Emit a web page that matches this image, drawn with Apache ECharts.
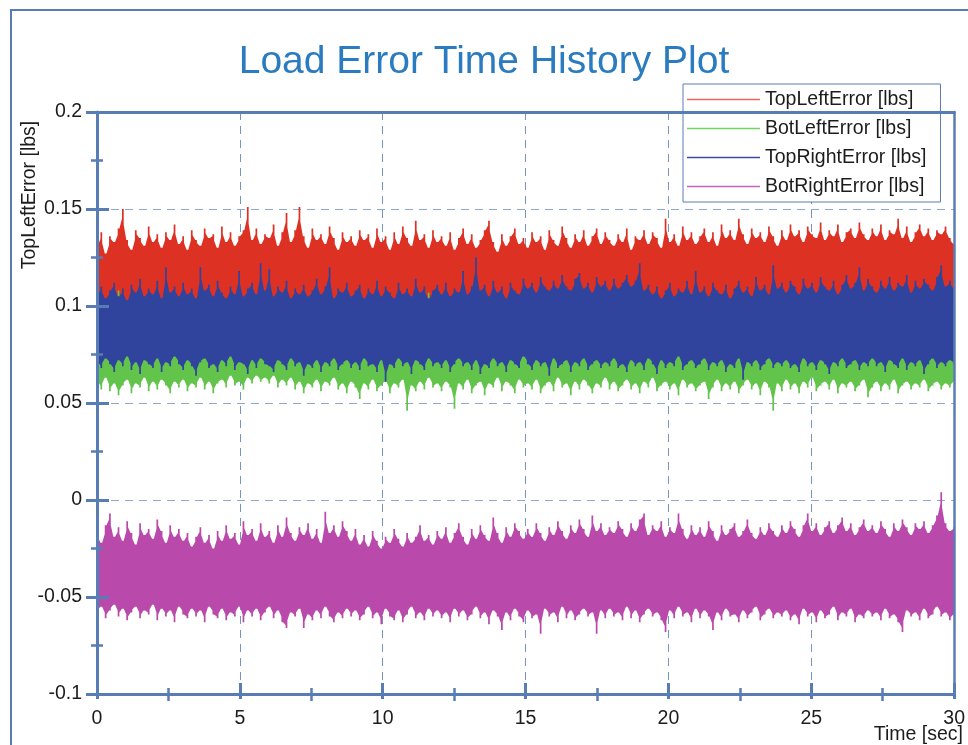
<!DOCTYPE html>
<html>
<head>
<meta charset="utf-8">
<script src="https://cdn.jsdelivr.net/npm/echarts@6/dist/echarts.min.js"></script>
<style>
  html, body { margin: 0; padding: 0; background: #ffffff; }
  #chart { width: 968px; height: 745px; }
</style>
</head>
<body>
<div id="chart"></div>
<script>
// Time span of the record [sec] and axis ticks
const timeMin = 0, timeMax = 30, timeStep = 5;
const loadMin = -0.1, loadMax = 0.2, loadStep = 0.05;

// Envelope of each error signal [lbs]: upper and lower extremes per time slot,
// 200 slots evenly spread over the record.
const topLeftHi = [
  0.131,0.138,0.127,0.136,0.133,0.140,0.150,0.134,0.129,0.139,0.135,0.131,0.141,0.133,0.137,0.130,0.138,0.134,0.142,0.132,
  0.136,0.129,0.139,0.134,0.131,0.140,0.135,0.137,0.130,0.141,0.133,0.138,0.131,0.136,0.139,0.151,0.134,0.140,0.132,0.137,
  0.135,0.142,0.131,0.138,0.148,0.133,0.139,0.151,0.136,0.130,0.140,0.134,0.137,0.132,0.141,0.135,0.129,0.138,0.133,0.136,
  0.131,0.139,0.134,0.137,0.130,0.140,0.133,0.136,0.129,0.138,0.132,0.141,0.135,0.131,0.144,0.134,0.137,0.130,0.139,0.133,
  0.136,0.131,0.138,0.129,0.135,0.140,0.132,0.137,0.130,0.134,0.139,0.144,0.133,0.128,0.137,0.131,0.136,0.140,0.132,0.135,
  0.130,0.138,0.133,0.136,0.129,0.139,0.134,0.131,0.141,0.135,0.130,0.137,0.133,0.139,0.131,0.136,0.140,0.132,0.138,0.134,
  0.131,0.137,0.133,0.140,0.129,0.136,0.134,0.139,0.132,0.138,0.135,0.130,0.145,0.133,0.137,0.131,0.141,0.134,0.138,0.132,
  0.136,0.140,0.133,0.138,0.131,0.142,0.135,0.139,0.134,0.145,0.137,0.132,0.140,0.135,0.138,0.133,0.141,0.136,0.131,0.139,
  0.134,0.142,0.136,0.139,0.133,0.141,0.137,0.135,0.143,0.134,0.139,0.136,0.142,0.133,0.138,0.140,0.135,0.143,0.137,0.134,
  0.140,0.136,0.142,0.134,0.139,0.137,0.145,0.135,0.141,0.133,0.138,0.142,0.136,0.140,0.134,0.139,0.137,0.141,0.135,0.132
];
const topLeftLo = [
  0.099,0.096,0.101,0.097,0.100,0.095,0.098,0.102,0.096,0.099,0.094,0.100,0.097,0.101,0.095,0.098,0.100,0.096,0.099,0.097,
  0.101,0.095,0.098,0.100,0.096,0.099,0.094,0.101,0.097,0.100,0.095,0.098,0.102,0.096,0.099,0.097,0.100,0.095,0.098,0.101,
  0.096,0.099,0.097,0.100,0.094,0.098,0.101,0.096,0.099,0.095,0.100,0.097,0.098,0.102,0.096,0.099,0.095,0.100,0.097,0.098,
  0.100,0.095,0.099,0.097,0.101,0.096,0.098,0.094,0.100,0.097,0.099,0.096,0.101,0.095,0.098,0.100,0.096,0.099,0.097,0.102,
  0.095,0.098,0.100,0.096,0.099,0.097,0.101,0.094,0.098,0.100,0.096,0.099,0.095,0.101,0.097,0.098,0.100,0.095,0.099,0.096,
  0.098,0.101,0.096,0.099,0.097,0.100,0.095,0.098,0.102,0.096,0.099,0.097,0.100,0.094,0.098,0.101,0.096,0.099,0.097,0.100,
  0.096,0.099,0.095,0.100,0.097,0.098,0.101,0.096,0.099,0.094,0.100,0.097,0.098,0.101,0.095,0.099,0.097,0.100,0.096,0.098,
  0.101,0.097,0.099,0.095,0.100,0.098,0.096,0.101,0.097,0.099,0.094,0.100,0.098,0.096,0.101,0.097,0.099,0.095,0.100,0.098,
  0.097,0.100,0.096,0.099,0.101,0.095,0.098,0.100,0.097,0.099,0.096,0.101,0.094,0.098,0.100,0.097,0.099,0.096,0.100,0.098,
  0.099,0.096,0.101,0.097,0.100,0.095,0.098,0.100,0.096,0.099,0.097,0.101,0.095,0.098,0.100,0.096,0.099,0.097,0.100,0.098
];
const botLeftHi = [
  0.092,0.088,0.095,0.090,0.097,0.108,0.093,0.089,0.096,0.091,0.094,0.087,0.098,0.092,0.090,0.095,0.088,0.093,0.097,0.091,
  0.094,0.089,0.096,0.092,0.087,0.095,0.090,0.098,0.093,0.088,0.096,0.091,0.094,0.089,0.097,0.092,0.090,0.095,0.088,0.093,
  0.091,0.096,0.089,0.094,0.092,0.098,0.087,0.093,0.095,0.090,0.097,0.092,0.088,0.094,0.091,0.096,0.089,0.093,0.099,0.090,
  0.095,0.088,0.092,0.097,0.090,0.094,0.089,0.096,0.091,0.093,0.087,0.095,0.092,0.090,0.097,0.093,0.088,0.107,0.091,0.094,
  0.089,0.096,0.092,0.088,0.095,0.091,0.098,0.090,0.093,0.087,0.096,0.092,0.094,0.089,0.097,0.091,0.095,0.088,0.093,0.090,
  0.096,0.091,0.094,0.089,0.097,0.092,0.088,0.095,0.090,0.098,0.093,0.087,0.094,0.091,0.096,0.089,0.093,0.097,0.090,0.095,
  0.092,0.088,0.095,0.091,0.097,0.089,0.094,0.090,0.096,0.093,0.087,0.095,0.092,0.098,0.090,0.094,0.088,0.096,0.091,0.093,
  0.097,0.090,0.093,0.088,0.095,0.092,0.098,0.089,0.094,0.091,0.096,0.087,0.093,0.090,0.097,0.092,0.095,0.089,0.094,0.091,
  0.088,0.095,0.091,0.097,0.090,0.093,0.087,0.096,0.092,0.094,0.089,0.098,0.091,0.095,0.088,0.093,0.097,0.090,0.094,0.092,
  0.095,0.089,0.093,0.097,0.091,0.094,0.088,0.096,0.092,0.090,0.097,0.093,0.089,0.095,0.091,0.094,0.090,0.096,0.092,0.093
];
const botLeftLo = [
  0.061,0.057,0.063,0.056,0.060,0.054,0.059,0.062,0.055,0.060,0.058,0.063,0.056,0.061,0.057,0.062,0.059,0.055,0.061,0.058,
  0.062,0.056,0.060,0.058,0.063,0.057,0.061,0.055,0.060,0.062,0.058,0.064,0.059,0.061,0.057,0.063,0.060,0.064,0.061,0.063,
  0.060,0.064,0.058,0.062,0.059,0.063,0.057,0.061,0.055,0.060,0.058,0.062,0.056,0.061,0.059,0.063,0.057,0.060,0.055,0.061,
  0.058,0.052,0.060,0.057,0.062,0.056,0.059,0.061,0.055,0.060,0.058,0.062,0.046,0.059,0.056,0.061,0.057,0.063,0.058,0.060,
  0.056,0.061,0.058,0.047,0.060,0.057,0.062,0.055,0.059,0.061,0.054,0.060,0.058,0.063,0.056,0.061,0.059,0.055,0.062,0.058,
  0.060,0.057,0.062,0.055,0.059,0.061,0.056,0.063,0.058,0.060,0.054,0.061,0.057,0.062,0.059,0.055,0.060,0.058,0.063,0.057,
  0.061,0.056,0.059,0.062,0.057,0.060,0.055,0.061,0.058,0.063,0.056,0.059,0.061,0.057,0.060,0.054,0.062,0.058,0.060,0.056,
  0.059,0.061,0.052,0.058,0.062,0.056,0.060,0.057,0.061,0.055,0.059,0.062,0.057,0.060,0.054,0.061,0.058,0.046,0.060,0.056,
  0.062,0.057,0.060,0.055,0.061,0.058,0.063,0.056,0.059,0.061,0.057,0.062,0.055,0.060,0.058,0.061,0.056,0.059,0.062,0.053,
  0.058,0.061,0.056,0.060,0.057,0.062,0.055,0.059,0.061,0.057,0.060,0.058,0.062,0.056,0.059,0.061,0.057,0.060,0.058,0.061
];
const topRightHi = [
  0.106,0.110,0.104,0.108,0.112,0.105,0.109,0.103,0.111,0.107,0.114,0.105,0.109,0.106,0.113,0.104,0.120,0.107,0.110,0.105,
  0.112,0.106,0.109,0.104,0.120,0.108,0.111,0.105,0.113,0.107,0.104,0.110,0.106,0.118,0.105,0.109,0.112,0.106,0.122,0.108,
  0.119,0.105,0.110,0.107,0.113,0.104,0.109,0.106,0.111,0.105,0.108,0.114,0.106,0.110,0.120,0.104,0.109,0.107,0.112,0.105,
  0.108,0.111,0.104,0.109,0.106,0.113,0.105,0.110,0.107,0.104,0.112,0.106,0.109,0.105,0.114,0.107,0.110,0.104,0.108,0.111,
  0.106,0.112,0.105,0.109,0.107,0.118,0.106,0.110,0.125,0.108,0.111,0.105,0.113,0.107,0.110,0.104,0.112,0.108,0.106,0.114,
  0.109,0.112,0.107,0.115,0.110,0.108,0.113,0.109,0.116,0.110,0.108,0.114,0.117,0.109,0.112,0.107,0.115,0.110,0.113,0.108,
  0.114,0.109,0.112,0.116,0.110,0.113,0.122,0.108,0.111,0.106,0.110,0.104,0.108,0.112,0.105,0.109,0.107,0.113,0.106,0.118,
  0.107,0.110,0.105,0.112,0.108,0.106,0.111,0.104,0.109,0.113,0.107,0.110,0.105,0.115,0.108,0.111,0.106,0.121,0.109,0.112,
  0.107,0.113,0.110,0.106,0.114,0.109,0.112,0.107,0.115,0.110,0.108,0.113,0.106,0.111,0.116,0.109,0.112,0.120,0.108,0.114,
  0.110,0.107,0.113,0.109,0.115,0.108,0.112,0.110,0.116,0.107,0.113,0.109,0.114,0.111,0.108,0.115,0.121,0.110,0.113,0.109
];
const topRightLo = [
  0.071,0.068,0.073,0.070,0.066,0.072,0.069,0.074,0.067,0.071,0.065,0.072,0.070,0.068,0.073,0.066,0.071,0.069,0.074,0.070,
  0.067,0.072,0.069,0.064,0.071,0.073,0.068,0.070,0.066,0.072,0.069,0.074,0.067,0.071,0.070,0.065,0.072,0.068,0.073,0.070,
  0.069,0.066,0.072,0.070,0.067,0.073,0.069,0.071,0.064,0.070,0.068,0.072,0.066,0.071,0.069,0.073,0.067,0.070,0.072,0.068,
  0.071,0.067,0.073,0.069,0.070,0.066,0.072,0.061,0.070,0.068,0.073,0.069,0.071,0.065,0.072,0.070,0.067,0.073,0.069,0.071,
  0.068,0.072,0.066,0.070,0.073,0.069,0.071,0.067,0.072,0.065,0.070,0.068,0.073,0.069,0.071,0.066,0.072,0.070,0.068,0.074,
  0.070,0.067,0.072,0.069,0.071,0.064,0.073,0.068,0.070,0.072,0.066,0.071,0.069,0.073,0.067,0.070,0.072,0.068,0.071,0.069,
  0.073,0.068,0.070,0.066,0.072,0.069,0.071,0.067,0.073,0.070,0.065,0.072,0.068,0.071,0.069,0.074,0.067,0.070,0.072,0.068,
  0.070,0.073,0.067,0.071,0.069,0.072,0.066,0.070,0.068,0.073,0.062,0.071,0.069,0.072,0.067,0.070,0.073,0.068,0.071,0.069,
  0.072,0.068,0.070,0.066,0.073,0.069,0.071,0.067,0.072,0.070,0.065,0.071,0.069,0.073,0.068,0.070,0.072,0.067,0.071,0.069,
  0.073,0.069,0.071,0.066,0.072,0.070,0.068,0.073,0.067,0.071,0.069,0.072,0.065,0.070,0.073,0.068,0.071,0.069,0.072,0.070
];
const botRightHi = [
  -0.016,-0.022,-0.013,-0.007,-0.019,-0.014,-0.021,-0.011,-0.017,-0.023,-0.012,-0.018,-0.015,-0.020,-0.010,-0.016,-0.022,-0.013,-0.019,-0.015,
  -0.021,-0.017,-0.024,-0.019,-0.014,-0.022,-0.018,-0.025,-0.016,-0.021,-0.013,-0.020,-0.017,-0.023,-0.011,-0.018,-0.015,-0.021,-0.012,-0.019,
  -0.016,-0.022,-0.013,-0.019,-0.009,-0.017,-0.021,-0.014,-0.018,-0.012,-0.020,-0.015,-0.022,-0.006,-0.017,-0.013,-0.019,-0.011,-0.016,-0.021,
  -0.015,-0.023,-0.018,-0.024,-0.016,-0.021,-0.025,-0.019,-0.022,-0.015,-0.020,-0.024,-0.017,-0.022,-0.019,-0.013,-0.021,-0.018,-0.023,-0.016,
  -0.020,-0.014,-0.022,-0.017,-0.012,-0.019,-0.023,-0.015,-0.020,-0.013,-0.018,-0.021,-0.009,-0.017,-0.022,-0.014,-0.019,-0.012,-0.016,-0.020,
  -0.015,-0.019,-0.012,-0.017,-0.021,-0.014,-0.018,-0.011,-0.016,-0.020,-0.013,-0.017,-0.010,-0.015,-0.019,-0.008,-0.016,-0.012,-0.018,-0.014,
  -0.017,-0.011,-0.015,-0.019,-0.012,-0.016,-0.010,-0.007,-0.018,-0.013,-0.016,-0.011,-0.019,-0.014,-0.017,-0.007,-0.015,-0.020,-0.013,-0.018,
  -0.014,-0.019,-0.011,-0.016,-0.021,-0.013,-0.018,-0.015,-0.012,-0.019,-0.016,-0.010,-0.017,-0.020,-0.014,-0.018,-0.012,-0.016,-0.019,-0.013,
  -0.017,-0.011,-0.015,-0.019,-0.013,-0.007,-0.016,-0.012,-0.018,-0.014,-0.011,-0.017,-0.013,-0.009,-0.016,-0.012,-0.018,-0.014,-0.010,-0.016,
  -0.013,-0.017,-0.011,-0.015,-0.019,-0.012,-0.016,-0.010,-0.014,-0.018,-0.012,-0.015,-0.011,-0.017,-0.013,-0.008,0.004,-0.012,-0.016,-0.014
];
const botRightLo = [
  -0.058,-0.055,-0.061,-0.057,-0.054,-0.060,-0.056,-0.062,-0.058,-0.055,-0.061,-0.057,-0.059,-0.054,-0.062,-0.056,-0.060,-0.057,-0.063,-0.055,
  -0.059,-0.061,-0.056,-0.060,-0.057,-0.063,-0.055,-0.059,-0.061,-0.056,-0.062,-0.058,-0.060,-0.055,-0.063,-0.057,-0.060,-0.056,-0.062,-0.058,
  -0.055,-0.061,-0.057,-0.063,-0.066,-0.058,-0.060,-0.056,-0.066,-0.059,-0.062,-0.057,-0.061,-0.055,-0.060,-0.063,-0.058,-0.061,-0.056,-0.060,
  -0.057,-0.062,-0.059,-0.055,-0.061,-0.058,-0.064,-0.056,-0.060,-0.062,-0.057,-0.063,-0.059,-0.055,-0.061,-0.058,-0.062,-0.056,-0.060,-0.057,
  -0.061,-0.058,-0.063,-0.056,-0.060,-0.057,-0.062,-0.059,-0.055,-0.061,-0.058,-0.064,-0.057,-0.060,-0.067,-0.058,-0.062,-0.056,-0.060,-0.063,
  -0.057,-0.061,-0.059,-0.069,-0.056,-0.060,-0.058,-0.063,-0.055,-0.061,-0.057,-0.062,-0.059,-0.056,-0.060,-0.058,-0.069,-0.057,-0.061,-0.056,
  -0.060,-0.058,-0.062,-0.055,-0.061,-0.057,-0.063,-0.059,-0.056,-0.060,-0.058,-0.062,-0.068,-0.057,-0.061,-0.055,-0.060,-0.058,-0.063,-0.056,
  -0.061,-0.057,-0.060,-0.067,-0.058,-0.062,-0.056,-0.060,-0.059,-0.063,-0.057,-0.061,-0.058,-0.055,-0.062,-0.059,-0.056,-0.061,-0.058,-0.060,
  -0.057,-0.062,-0.059,-0.064,-0.056,-0.060,-0.058,-0.063,-0.057,-0.061,-0.059,-0.055,-0.062,-0.058,-0.060,-0.056,-0.063,-0.059,-0.061,-0.057,
  -0.060,-0.058,-0.062,-0.056,-0.061,-0.059,-0.063,-0.068,-0.057,-0.060,-0.058,-0.062,-0.056,-0.061,-0.059,-0.055,-0.060,-0.058,-0.062,-0.059
];

const signals = [
  { name: 'TopLeftError [lbs]',  hi: topLeftHi,  lo: topLeftLo,  color: '#dd3124' },
  { name: 'BotLeftError [lbs]',  hi: botLeftHi,  lo: botLeftLo,  color: '#62c44a' },
  { name: 'TopRightError [lbs]', hi: topRightHi, lo: topRightLo, color: '#30449e' },
  { name: 'BotRightError [lbs]', hi: botRightHi, lo: botRightLo, color: '#b94aab' }
];
const legendColors = ['#e8685c', '#72d460', '#3a4c9e', '#c863bd'];

const FONT = '"Liberation Sans", Arial, sans-serif';
const AXIS_COLOR = '#587cb4';
const TEXT_COLOR = '#1c1c1c';
const LABEL_SIZE = 19.5;

// One item per time slot: [t, lo, hi]
function bandItems(hi, lo) {
  const n = hi.length;
  const dt = (timeMax - timeMin) / (n - 1);
  return hi.map((h, i) => [timeMin + i * dt, lo[i], h]);
}

// Whole band of a signal as one filled outline. Each slot's extreme is drawn as a
// narrow spike; between two slots the edge sits half-way between their extremes.
function renderBand(params, api) {
  if (params.dataIndexInside !== 0) return null;
  const n = params.dataInsideLength;
  const t = [], lo = [], hi = [];
  for (let j = 0; j < n; j++) {
    t.push(api.value(0, j)); lo.push(api.value(1, j)); hi.push(api.value(2, j));
  }
  const half = 0.2 * (t[1] - t[0]);
  const mid = (a, b) => (a + b) / 2;
  const top = [], bottom = [];
  for (let j = 0; j < n; j++) {
    const xl = Math.max(timeMin, t[j] - half);
    const xr = Math.min(timeMax, t[j] + half);
    const hiL = j > 0 ? Math.min(hi[j], mid(hi[j - 1], hi[j])) : hi[j];
    const hiR = j < n - 1 ? Math.min(hi[j], mid(hi[j], hi[j + 1])) : hi[j];
    const loL = j > 0 ? Math.max(lo[j], mid(lo[j - 1], lo[j])) : lo[j];
    const loR = j < n - 1 ? Math.max(lo[j], mid(lo[j], lo[j + 1])) : lo[j];
    top.push(api.coord([xl, hiL]), api.coord([xl, hi[j]]), api.coord([xr, hi[j]]), api.coord([xr, hiR]));
    bottom.push(api.coord([xl, loL]), api.coord([xl, lo[j]]), api.coord([xr, lo[j]]), api.coord([xr, loR]));
  }
  return {
    type: 'polygon',
    shape: { points: top.concat(bottom.reverse()) },
    style: { fill: api.visual('color') },
    silent: true
  };
}

function xAxisBase(extra) {
  return Object.assign({
    type: 'value', min: timeMin, max: timeMax, interval: timeStep,
    axisLine: { show: false, onZero: false }, axisTick: { show: false }, minorTick: { show: false },
    axisLabel: { show: false }, splitLine: { show: false }
  }, extra);
}
function yAxisBase(extra) {
  return Object.assign({
    type: 'value', min: loadMin, max: loadMax, interval: loadStep,
    axisLine: { show: false, onZero: false }, axisTick: { show: false }, minorTick: { show: false },
    axisLabel: { show: false }, splitLine: { show: false }
  }, extra);
}

const gridDash = { type: [8, 6], width: 1 };
const frameLine = (w) => ({ show: true, onZero: false, lineStyle: { color: AXIS_COLOR, width: w } });

const option = {
  animation: false,
  backgroundColor: '#ffffff',
  title: {
    text: 'Load Error Time History Plot',
    left: 'center',
    top: 38,
    textStyle: { fontFamily: FONT, fontSize: 39, fontWeight: 'normal', color: '#2a7bbf' }
  },
  grid: { left: 97, right: 9, top: 112, bottom: 51, containLabel: false },
  legend: {
    orient: 'vertical',
    left: 683,
    top: 84,
    padding: [5, 14, 5, 4],
    itemGap: 8,
    itemWidth: 73,
    itemHeight: 1.5,
    icon: 'rect',
    selectedMode: false,
    backgroundColor: '#ffffff',
    borderColor: AXIS_COLOR,
    borderWidth: 1,
    textStyle: { fontFamily: FONT, fontSize: LABEL_SIZE, color: TEXT_COLOR, lineHeight: 21 },
    data: signals.map((s, i) => ({ name: s.name, itemStyle: { color: legendColors[i] } }))
  },
  xAxis: [
    // dashed vertical grid, under the data
    xAxisBase({ position: 'bottom', z: 0,
      splitLine: { show: true, lineStyle: Object.assign({ color: '#7593c3' }, gridDash) } }),
    // bottom axis line, outer tick halves and labels
    xAxisBase({ position: 'bottom', z: 5,
      axisLine: frameLine(3),
      axisTick: { show: true, inside: false, length: 5, lineStyle: { color: AXIS_COLOR, width: 3 } },
      minorTick: { show: true, splitNumber: 2, length: 7, lineStyle: { color: AXIS_COLOR, width: 2.5 } },
      axisLabel: { show: true, color: TEXT_COLOR, fontFamily: FONT, fontSize: LABEL_SIZE, margin: 15 } }),
    // inner tick halves
    xAxisBase({ position: 'bottom', z: 5,
      axisTick: { show: true, inside: true, length: 11, lineStyle: { color: AXIS_COLOR, width: 3 } },
      minorTick: { show: true, splitNumber: 2, length: 6, lineStyle: { color: AXIS_COLOR, width: 2.5 } } }),
    // top frame line
    xAxisBase({ position: 'top', z: 5, axisLine: frameLine(3) })
  ],
  yAxis: [
    yAxisBase({ position: 'left', z: 0,
      splitLine: { show: true, lineStyle: Object.assign({ color: '#8ea7cc' }, gridDash) } }),
    yAxisBase({ position: 'left', z: 5,
      axisLine: frameLine(3),
      axisTick: { show: true, inside: false, length: 11, lineStyle: { color: AXIS_COLOR, width: 3 } },
      minorTick: { show: true, splitNumber: 2, length: 6, lineStyle: { color: AXIS_COLOR, width: 2.5 } },
      axisLabel: { show: true, color: TEXT_COLOR, fontFamily: FONT, fontSize: LABEL_SIZE, margin: 15 } }),
    yAxisBase({ position: 'left', z: 5,
      axisTick: { show: true, inside: true, length: 12, lineStyle: { color: AXIS_COLOR, width: 3 } },
      minorTick: { show: true, splitNumber: 2, length: 6, lineStyle: { color: AXIS_COLOR, width: 2.5 } } }),
    // right frame line
    yAxisBase({ position: 'right', z: 5, axisLine: frameLine(2.5) })
  ],
  series: signals.map(s => ({
    type: 'custom',
    name: s.name,
    xAxisIndex: 0,
    yAxisIndex: 0,
    z: 2,
    itemStyle: { color: s.color },
    renderItem: renderBand,
    encode: { x: 0, y: [1, 2] },
    data: bandItems(s.hi, s.lo)
  })),
  graphic: [
    { type: 'rect', z: 100, silent: true,
      shape: { x: 11, y: 10, width: 1200, height: 1000 },
      style: { fill: 'none', stroke: AXIS_COLOR, lineWidth: 2 } },
    { type: 'text', z: 100, silent: true, x: 30, y: 195, rotation: Math.PI / 2,
      style: { text: 'TopLeftError [lbs]', font: LABEL_SIZE + 'px ' + FONT, fill: TEXT_COLOR,
               align: 'center', verticalAlign: 'middle', textAlign: 'center', textVerticalAlign: 'middle' } },
    { type: 'text', z: 100, silent: true, x: 963, y: 735,
      style: { text: 'Time [sec]', font: LABEL_SIZE + 'px ' + FONT, fill: TEXT_COLOR,
               align: 'right', verticalAlign: 'middle', textAlign: 'right', textVerticalAlign: 'middle' } }
  ]
};

const chart = echarts.init(document.getElementById('chart'), null, { renderer: 'canvas' });
chart.setOption(option);
</script>
</body>
</html>
